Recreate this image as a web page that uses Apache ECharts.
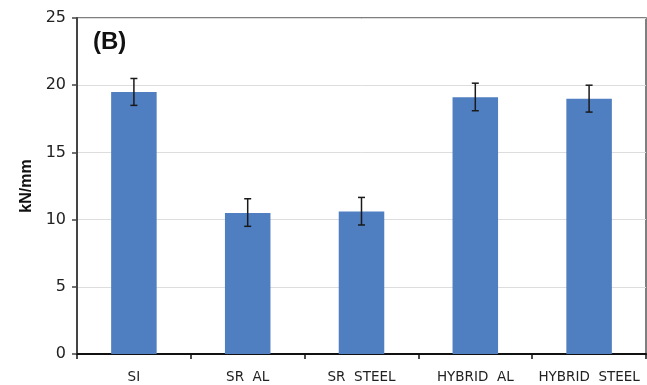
<!DOCTYPE html>
<html>
<head>
<meta charset="utf-8">
<script src="https://cdn.jsdelivr.net/npm/echarts@6/dist/echarts.min.js"></script>
<style>
  html, body { margin: 0; padding: 0; background: #fff; }
  #chart { width: 647px; height: 385px; }
</style>
</head>
<body>
<div id="chart"></div>
<script>
// Stiffness per specimen type (kN/mm) with ± error
const categories = ['SI', 'SR  AL', 'SR  STEEL', 'HYBRID  AL', 'HYBRID  STEEL'];
const stiffness = [19.5, 10.5, 10.6, 19.1, 19.0];
const errorLow = [18.5, 9.5, 9.6, 18.1, 18.0];
const errorHigh = [20.5, 11.55, 11.65, 20.15, 20.0];
const yTicks = [0, 5, 10, 15, 20, 25];

const chart = echarts.init(document.getElementById('chart'));

const errorData = categories.map((c, i) => [i, errorLow[i], errorHigh[i]]);

chart.setOption({
  animation: false,
  grid: {
    left: 77, right: 1, top: 18, bottom: 31,
    show: true, borderColor: '#555', borderWidth: 1.5, backgroundColor: 'transparent'
  },
  title: {
    text: '(B)', left: 88, top: 25,
    textStyle: { fontFamily: 'Liberation Sans, Arial, sans-serif', fontSize: 24, fontWeight: 'bold', color: '#111' }
  },
  xAxis: {
    type: 'category',
    data: categories,
    axisLine: { lineStyle: { color: '#111', width: 2 } },
    axisTick: { show: true, interval: 0, length: 5, lineStyle: { color: '#111', width: 1.5 } },
    axisLabel: { interval: 0, color: '#222', fontSize: 13.5, fontFamily: 'DejaVu Sans, sans-serif', margin: 16 }
  },
  yAxis: {
    type: 'value',
    min: yTicks[0], max: yTicks[yTicks.length - 1], interval: 5,
    name: 'kN/mm', nameLocation: 'middle', nameGap: 37, nameRotate: 90,
    nameTextStyle: { fontFamily: 'Liberation Sans, Arial, sans-serif', fontSize: 16, fontWeight: 'bold', color: '#111' },
    axisLine: { show: true, lineStyle: { color: '#444', width: 2 } },
    axisTick: { show: true, length: 5, lineStyle: { color: '#444', width: 1.5 } },
    axisLabel: { color: '#222', fontSize: 16, fontFamily: 'DejaVu Sans, sans-serif', margin: 11 },
    splitLine: { lineStyle: { color: '#dddddd', width: 1 } }
  },
  series: [
    {
      type: 'bar',
      data: stiffness,
      barWidth: '40%',
      itemStyle: { color: '#4f7ec1' }
    },
    {
      type: 'custom',
      data: errorData,
      z: 10,
      renderItem: function (params, api) {
        const x = api.value(0);
        const lo = api.coord([x, api.value(1)]);
        const hi = api.coord([x, api.value(2)]);
        const cap = 3.5;
        const style = { stroke: '#1a1a1a', lineWidth: 1.5 };
        return {
          type: 'group',
          children: [
            { type: 'line', shape: { x1: hi[0], y1: hi[1], x2: lo[0], y2: lo[1] }, style: style },
            { type: 'line', shape: { x1: hi[0] - cap, y1: hi[1], x2: hi[0] + cap, y2: hi[1] }, style: style },
            { type: 'line', shape: { x1: lo[0] - cap, y1: lo[1], x2: lo[0] + cap, y2: lo[1] }, style: style }
          ]
        };
      }
    }
  ]
});
</script>
</body>
</html>
